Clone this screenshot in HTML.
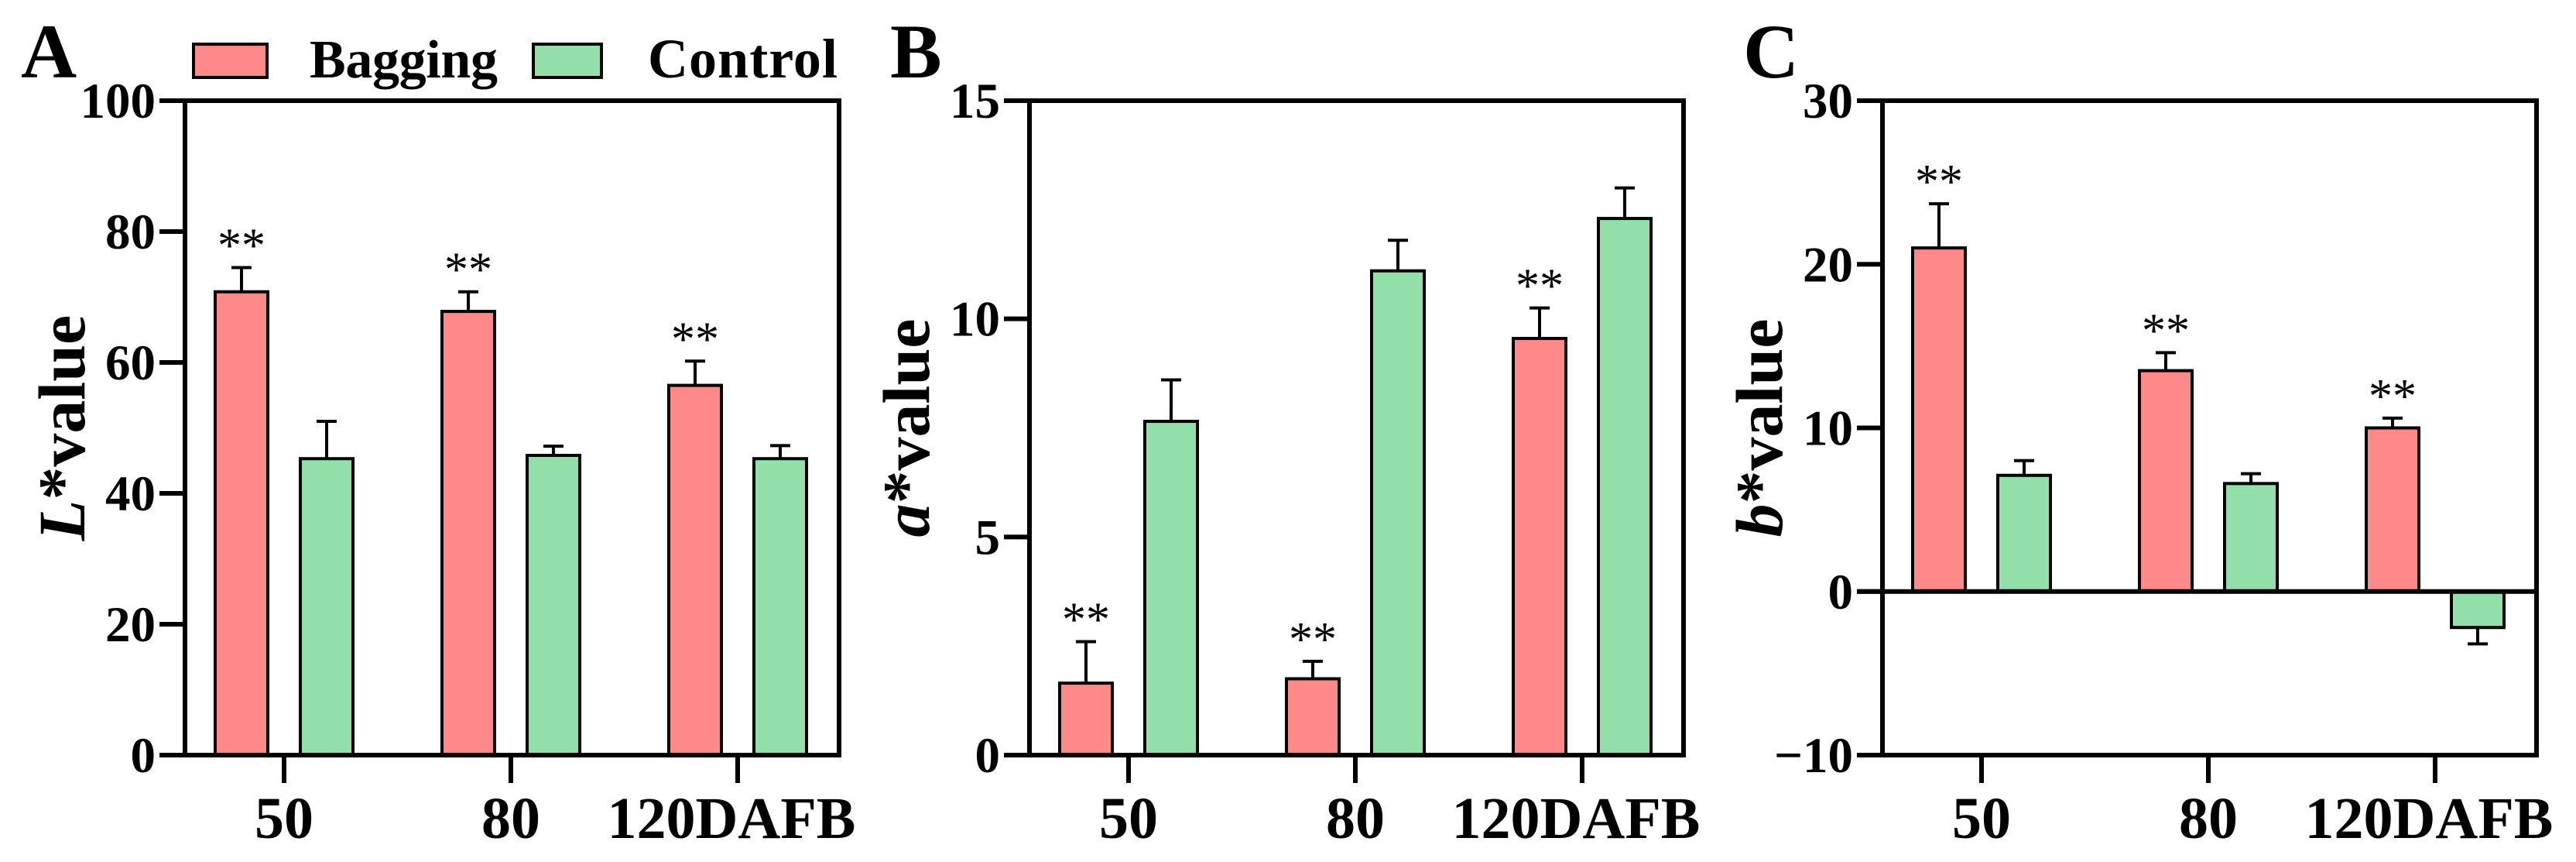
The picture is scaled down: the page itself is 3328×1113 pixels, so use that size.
<!DOCTYPE html>
<html><head><meta charset="utf-8"><style>
html,body{margin:0;padding:0;background:#fff;}
svg{display:block;}
svg text{font-family:"Liberation Serif","Times New Roman","DejaVu Serif",serif;}
</style></head><body>
<svg id="chart" width="3328" height="1113" viewBox="0 0 3328 1113" xmlns="http://www.w3.org/2000/svg" font-family="Liberation Serif, Times New Roman, DejaVu Serif, serif"></svg>
<script>
const categories = ["50","80","120DAFB"];
const lBag = [70.8, 67.8, 56.5];
const lBagErr = [74.5, 70.8, 60.2];
const lCon = [45.3, 45.8, 45.3];
const lConErr = [51.0, 47.2, 47.3];
const aBag = [1.65, 1.75, 9.55];
const aBagErr = [2.6, 2.15, 10.25];
const aCon = [7.65, 11.1, 12.3];
const aConErr = [8.6, 11.8, 13.0];
const bBag = [21.0, 13.5, 10.0];
const bBagErr = [23.7, 14.6, 10.6];
const bCon = [7.1, 6.6, -2.2];
const bConErr = [8.0, 7.2, -3.2];
const lTicks = [0,20,40,60,80,100];
const aTicks = [0,5,10,15];
const bTicks = [-10,0,10,20,30];
const sigBag = [true,true,true];

const NS = "http://www.w3.org/2000/svg";
const FONT = "Liberation Serif, Times New Roman, DejaVu Serif, serif";
const svg = document.getElementById("chart");
function mk(tag, attrs, parent, text){
  const e = document.createElementNS(NS, tag);
  for (const k in attrs) e.setAttribute(k, attrs[k]);
  if (tag === "text") e.setAttribute("font-family", FONT);
  if (text !== undefined) e.textContent = text;
  (parent||svg).appendChild(e);
  return e;
}
const TOP=130, BOT=975, W=845;
const RED="#ff8888", GREEN="#92dfa9";

function panel(id, left, letter, ticks, bag, bagErr, con, conErr, titleItalic){
  const g = mk("g", {});
  
  
  const ymin = ticks[0], ymax = ticks[ticks.length-1];
  const y = v => BOT - (v - ymin) / (ymax - ymin) * (BOT - TOP);
  const xc = i => left + 128 + i * 293;
  const right = left + W;
  const zero = y(Math.max(0, ymin));
  const series = [[bag, bagErr, RED, -55, 'bagging'], [con, conErr, GREEN, 55, 'control']];
  series.forEach(([vals, errs, col, off, nm]) => {
    vals.forEach((v, i) => {
      const cx = xc(i) + off;
      const y0 = y(0), y1 = y(v);
      const r = mk("rect", {x: cx-34, y: Math.min(y0,y1), width: 68, height: Math.abs(y1-y0), fill: col, stroke: "#000", "stroke-width": 4}, g);
      
      
      const ye = y(errs[i]);
      const e1 = mk("line", {x1: cx, x2: cx, y1: y1, y2: ye, stroke: "#000", "stroke-width": 4}, g);
      
      
      const e2 = mk("line", {x1: cx-13, x2: cx+13, y1: ye, y2: ye, stroke: "#000", "stroke-width": 4}, g);
      
      
      if (nm === 'bagging' && sigBag[i]) {
        const s = mk("text", {x: cx, y: ye - 8, "font-size": 62, "text-anchor": "middle"}, g, "**");
        
        
      }
    });
  });
  const fr = mk("rect", {x: left, y: TOP, width: W, height: BOT-TOP, fill: "none", stroke: "#000", "stroke-width": 6}, g);
  
  
  const zl = mk("line", {x1: left-33, x2: right+3, y1: zero, y2: zero, stroke: "#000", "stroke-width": 6}, g);
  
  
  ticks.forEach(t => {
    const ty = y(t);
    const tl = mk("line", {x1: left-33, x2: left, y1: ty, y2: ty, stroke: "#000", "stroke-width": 6}, g);
    
    
    const tx = mk("text", {x: left-38, y: ty+22, "font-size": 65, "font-weight": "bold", "text-anchor": "end"}, g, t < 0 ? "\u2212" + (-t) : String(t));
    
    
  });
  categories.forEach((c, i) => {
    const xl = mk("line", {x1: xc(i), x2: xc(i), y1: BOT, y2: BOT+36, stroke: "#000", "stroke-width": 6}, g);
    
    
    const xt = mk("text", {x: xc(i)+ (i===2? -8:0), y: 1082, "font-size": 76, "font-weight": "bold", "text-anchor": "middle"}, g, c);
    
    
  });
  const tt = mk("text", {x: 0, y: 0, "font-size": 86, "font-weight": "bold", "text-anchor": "middle", transform: `translate(${left-130},${(TOP+BOT)/2}) rotate(-90)`}, g);
  
  
  mk("tspan", {"font-style": "italic"}, tt, titleItalic);
  mk("tspan", {}, tt, "*value");
  const lt = mk("text", {x: left - (letter==='A'?212:180), y: 100, "font-size": 100, "font-weight": "bold"}, g, letter);
  
  
}

panel('L', 239, 'A', lTicks, lBag, lBagErr, lCon, lConErr, 'L');
panel('a', 1330, 'B', aTicks, aBag, aBagErr, aCon, aConErr, 'a');
panel('b', 2432, 'C', bTicks, bBag, bBagErr, bCon, bConErr, 'b');

const lg = mk("g", {});


const lr = mk("rect", {x: 250, y: 57, width: 95, height: 43, fill: RED, stroke: "#000", "stroke-width": 4}, lg);


const lt1 = mk("text", {x: 400, y: 100, "font-size": 70, "font-weight": "bold", textLength: 243}, lg, "Bagging");


const lgn = mk("rect", {x: 689, y: 57, width: 88, height: 43, fill: GREEN, stroke: "#000", "stroke-width": 4}, lg);


const lt2 = mk("text", {x: 837, y: 100, "font-size": 72, "font-weight": "bold", textLength: 245}, lg, "Control");


</script>
</body></html>
